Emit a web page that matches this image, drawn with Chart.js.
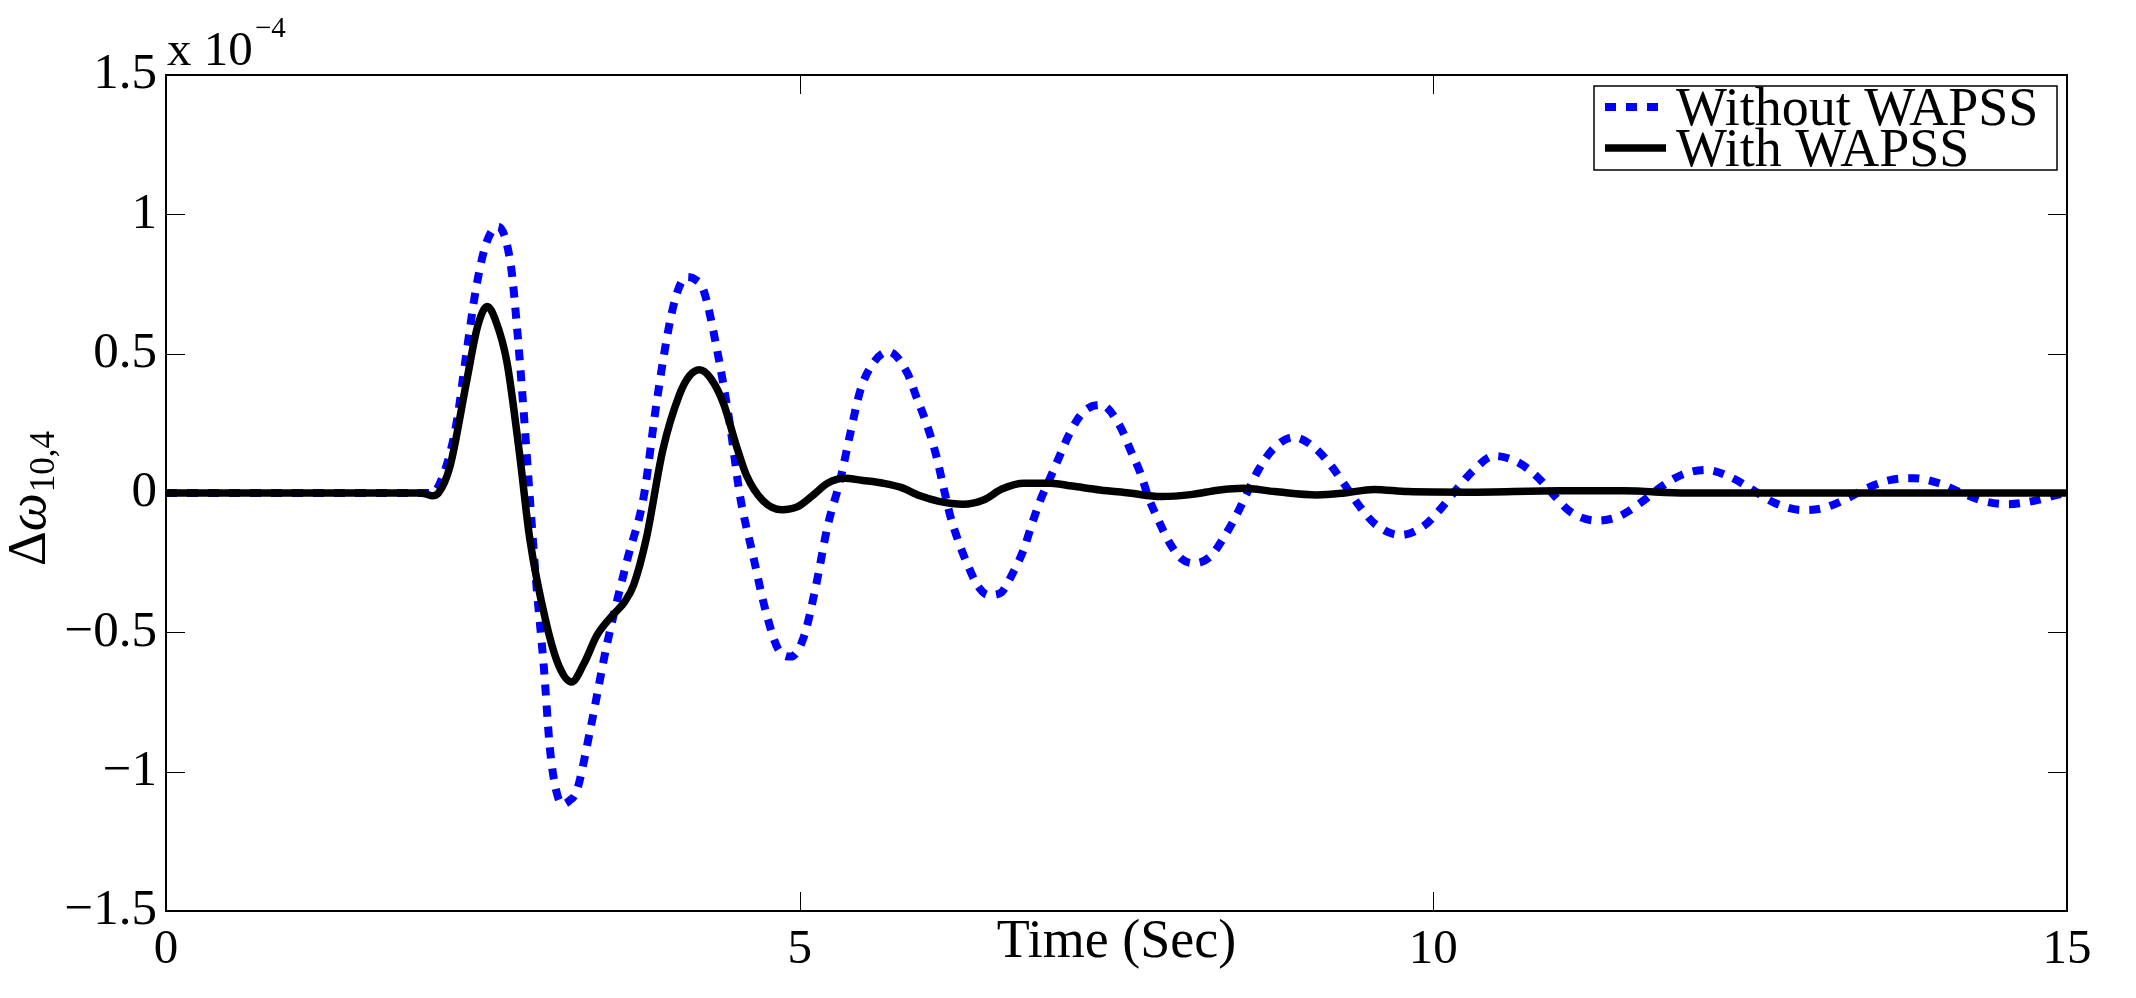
<!DOCTYPE html>
<html>
<head>
<meta charset="utf-8">
<script src="https://cdn.jsdelivr.net/npm/chart.js@4.4.1/dist/chart.umd.min.js"></script>
<style>
  html, body { margin: 0; padding: 0; background: #fff; }
  canvas { display: block; }
</style>
</head>
<body>
<canvas id="chart" width="2136" height="998"></canvas>
<script>
// values in units of 1e-4
const seriesNames = ["Without WAPSS", "With WAPSS"];

const timeWithout = [
  0, 2.0, 2.1, 2.2, 2.29, 2.37, 2.45, 2.53, 2.62, 2.72, 2.77, 2.82, 2.87, 2.92, 2.98, 3.03, 3.08, 3.13, 3.18, 3.24,
  3.35, 3.48, 3.64, 3.77, 3.87, 3.98, 4.05, 4.11, 4.18, 4.24, 4.34, 4.45, 4.53, 4.63, 4.73, 4.83, 4.93, 5.03, 5.13, 5.22,
  5.32, 5.40, 5.48, 5.58, 5.70, 5.85, 5.92, 6.00, 6.08, 6.14, 6.19, 6.25, 6.32, 6.41, 6.49, 6.58, 6.69, 6.77, 6.83, 6.90,
  6.98, 7.06, 7.13, 7.24, 7.38, 7.53, 7.61, 7.69, 7.75, 7.83, 7.92, 8.01, 8.11, 8.24, 8.35, 8.45, 8.53, 8.62, 8.74, 8.90,
  9.07, 9.20, 9.31, 9.42, 9.55, 9.74, 9.92, 10.05, 10.18, 10.32, 10.48, 10.66, 10.82, 10.95, 11.08, 11.29, 11.46, 11.63, 11.80, 11.96,
  12.15, 12.34, 12.50, 12.69, 12.91, 13.07, 13.25, 13.42, 13.61, 13.79, 13.99, 14.17, 14.36, 14.54, 14.74, 14.95, 15.0
];
const valuesWithout = [
  0, 0, 0, 0.08, 0.245, 0.5, 0.744, 0.9, 0.956, 0.82, 0.593, 0.306, -0.012, -0.315, -0.617, -0.92, -1.07, -1.117, -1.105, -1.07,
  -0.844, -0.542, -0.239, -0.012, 0.321, 0.623, 0.74, 0.775, 0.765, 0.73, 0.533, 0.245, -0.012, -0.22, -0.42, -0.56, -0.587, -0.52, -0.33, -0.12,
  0.047, 0.215, 0.37, 0.466, 0.507, 0.43, 0.346, 0.25, 0.13, 0.01, -0.085, -0.17, -0.252, -0.336, -0.366, -0.36, -0.28, -0.2, -0.115, -0.025,
  0.058, 0.142, 0.214, 0.292, 0.316, 0.238, 0.154, 0.07, -0.013, -0.097, -0.18, -0.235, -0.252, -0.228, -0.157, -0.076, 0, 0.083, 0.16, 0.2,
  0.16, 0.094, 0.023, -0.049, -0.115, -0.151, -0.12, -0.061, 0.011, 0.083, 0.133, 0.112, 0.058, -0.007, -0.067, -0.099, -0.085, -0.037, 0.023, 0.065,
  0.083, 0.058, 0.017, -0.035, -0.061, -0.055, -0.023, 0.017, 0.047, 0.053, 0.035, 0.0, -0.031, -0.04, -0.028, -0.004, 0
];

const timeWith = [
  0, 2.0, 2.06, 2.10, 2.15, 2.24, 2.37, 2.46, 2.535, 2.60, 2.69, 2.79, 2.87, 3.0, 3.10, 3.20, 3.30, 3.40, 3.53, 3.62,
  3.69, 3.79, 3.92, 4.05, 4.13, 4.21, 4.30, 4.40, 4.50, 4.58, 4.71, 4.86, 4.98, 5.10, 5.22, 5.35, 5.50, 5.66, 5.80, 5.95,
  6.10, 6.29, 6.45, 6.60, 6.77, 6.98, 7.15, 7.37, 7.60, 7.85, 8.10, 8.30, 8.50, 8.75, 9.08, 9.30, 9.53, 9.80, 10.27, 11.0,
  11.5, 12.0, 15.0
];
const valuesWith = [
  0, 0, -0.005, -0.01, 0.0, 0.094, 0.396, 0.6, 0.669, 0.62, 0.47, 0.139, -0.163, -0.466, -0.62, -0.678, -0.61, -0.511, -0.436, -0.39,
  -0.33, -0.163, 0.154, 0.351, 0.42, 0.442, 0.41, 0.32, 0.17, 0.064, -0.027, -0.06, -0.05, -0.01, 0.035, 0.053, 0.045, 0.035, 0.02, -0.01,
  -0.03, -0.04, -0.025, 0.015, 0.035, 0.035, 0.025, 0.011, 0.0, -0.013, -0.005, 0.01, 0.017, 0.005, -0.007, 0.0, 0.013, 0.005, 0.003, 0.008,
  0.008, 0.0, 0
];

const xTicks = [0, 5, 10, 15];
const yTicks = [-1.5, -1, -0.5, 0, 0.5, 1, 1.5];

const SERIF = "'Liberation Serif', 'Times New Roman', serif";

function toPoints(xs, ys) {
  return xs.map((x, i) => ({ x: x, y: ys[i] }));
}

function fmt(v) {
  return v === 0 ? "0" : String(v).replace("-", "\u2212");
}

// MATLAB style box with inward ticks on all four sides
const boxPlugin = {
  id: "box",
  afterDatasetsDraw(chart) {
    const { ctx, chartArea: a, scales } = chart;
    const len = 19;
    ctx.save();
    ctx.strokeStyle = "#000";
    ctx.lineWidth = 1;
    ctx.beginPath();
    xTicks.forEach(v => {
      const px = Math.round(scales.x.getPixelForValue(v)) + 0.5;
      ctx.moveTo(px, a.bottom); ctx.lineTo(px, a.bottom - len);
      ctx.moveTo(px, a.top); ctx.lineTo(px, a.top + len);
    });
    yTicks.forEach(v => {
      const py = Math.round(scales.y.getPixelForValue(v)) + 0.5;
      ctx.moveTo(a.left, py); ctx.lineTo(a.left + len, py);
      ctx.moveTo(a.right, py); ctx.lineTo(a.right - len, py);
    });
    ctx.stroke();
    ctx.lineWidth = 2;
    ctx.strokeRect(a.left, a.top, a.right - a.left, a.bottom - a.top);
    ctx.restore();
  },
  afterDraw(chart) {
    const { ctx, chartArea: a } = chart;
    ctx.save();
    ctx.fillStyle = "#000";
    ctx.textAlign = "left";
    ctx.textBaseline = "alphabetic";

    // exponent label
    ctx.font = "49px " + SERIF;
    ctx.fillText("x 10", a.left + 1, a.top - 10);
    ctx.font = "29px " + SERIF;
    ctx.fillText("\u22124", a.left + 89, a.top - 38);

    // y axis label, rotated, with subscript
    ctx.translate(45, 566);
    ctx.rotate(-Math.PI / 2);
    ctx.font = "54px " + SERIF;
    ctx.fillText("\u0394", 0, 0);
    let w = ctx.measureText("\u0394").width;
    ctx.font = "italic 54px " + SERIF;
    ctx.fillText("\u03c9", w, 0);
    w += ctx.measureText("\u03c9").width;
    ctx.font = "35px " + SERIF;
    ctx.fillText("10,4", w + 1, 9);
    ctx.restore();

    // legend box in the top right corner
    const bx = a.right - 473, by = a.top + 11, bw = 463, bh = 84;
    ctx.save();
    ctx.fillStyle = "#fff";
    ctx.fillRect(bx, by, bw, bh);
    ctx.strokeStyle = "#000";
    ctx.lineWidth = 1.5;
    ctx.strokeRect(bx, by, bw, bh);
    chart.data.datasets.forEach((ds, i) => {
      const ly = by + 21 + i * 41;
      ctx.strokeStyle = ds.borderColor;
      ctx.lineWidth = ds.borderWidth;
      ctx.setLineDash(ds.borderDash || []);
      ctx.beginPath();
      ctx.moveTo(bx + 11, ly);
      ctx.lineTo(bx + 72, ly);
      ctx.stroke();
      ctx.setLineDash([]);
      ctx.fillStyle = "#000";
      ctx.font = "54px " + SERIF;
      ctx.textBaseline = "alphabetic";
      ctx.fillText(ds.label, bx + 82, ly + 18);
    });
    ctx.restore();
  }
};

new Chart(document.getElementById("chart"), {
  type: "line",
  data: {
    datasets: [
      {
        label: seriesNames[0],
        data: toPoints(timeWithout, valuesWithout),
        borderColor: "#0000ff",
        borderWidth: 8,
        borderDash: [11, 10],
        borderCapStyle: "butt",
        pointRadius: 0,
        cubicInterpolationMode: "monotone",
        order: 2
      },
      {
        label: seriesNames[1],
        data: toPoints(timeWith, valuesWith),
        borderColor: "#000000",
        borderWidth: 7.5,
        pointRadius: 0,
        cubicInterpolationMode: "monotone",
        order: 1
      }
    ]
  },
  options: {
    responsive: false,
    animation: false,
    events: [],
    layout: { padding: { top: 75, right: 69, left: 0, bottom: 0 } },
    plugins: {
      legend: { display: false },
      tooltip: { enabled: false }
    },
    scales: {
      x: {
        type: "linear",
        min: 0,
        max: 15,
        afterBuildTicks: s => { s.ticks = xTicks.map(v => ({ value: v })); },
        afterFit: s => { s.height = 87; },
        grid: { display: false, drawTicks: false, tickLength: 0 },
        border: { display: false },
        ticks: {
          autoSkip: false,
          maxRotation: 0,
          padding: 10,
          color: "#000",
          font: { family: SERIF, size: 49 },
          callback: v => fmt(v)
        },
        title: {
          display: true,
          text: "Time (Sec)",
          color: "#000",
          font: { family: SERIF, size: 54 },
          padding: { top: 0, bottom: 23 }
        }
      },
      y: {
        type: "linear",
        min: -1.5,
        max: 1.5,
        afterBuildTicks: s => { s.ticks = yTicks.map(v => ({ value: v })); },
        afterFit: s => { s.width = 166; },
        grid: { display: false, drawTicks: false, tickLength: 0 },
        border: { display: false },
        ticks: {
          autoSkip: false,
          padding: 9,
          color: "#000",
          font: { family: SERIF, size: 51 },
          callback: v => fmt(v)
        }
      }
    }
  },
  plugins: [boxPlugin]
});
</script>
</body>
</html>
